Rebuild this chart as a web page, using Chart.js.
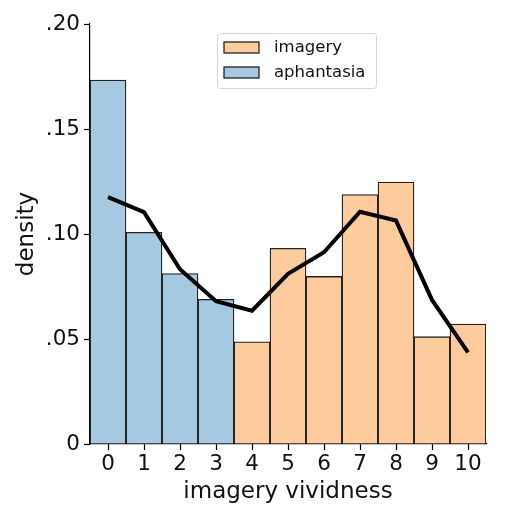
<!DOCTYPE html>
<html>
<head>
<meta charset="utf-8">
<script src="https://cdn.jsdelivr.net/npm/chart.js@4"></script>
<style>
  html, body { margin: 0; padding: 0; background: #fff; }
  #wrap { width: 520px; height: 520px; }
</style>
</head>
<body>
<div id="wrap"><canvas id="chart" width="520" height="520"></canvas></div>
<script>
// categories and values
var vividness = ['0', '1', '2', '3', '4', '5', '6', '7', '8', '9', '10'];
var aphantasia = [0.1733, 0.1008, 0.0812, 0.0689, null, null, null, null, null, null, null];
var imagery = [null, null, null, null, 0.0487, 0.0932, 0.0798, 0.1188, 0.1247, 0.0511, 0.0571];
var density = [0.1176, 0.1104, 0.0832, 0.0680, 0.0635, 0.0810, 0.0913, 0.1106, 0.1064, 0.0686, 0.0436];
var yTicks = [0, 0.05, 0.10, 0.15, 0.20];

var blue = '#a6c9e2';
var orange = '#fecb9c';
var font = 'DejaVu Sans';

function fmtTick(v) {
  if (v === 0) return '0';
  return v.toFixed(2).replace(/^0/, '');
}

// matplotlib style legend box inside the plot
var legendBox = {
  id: 'legendBox',
  afterDraw: function (chart) {
    var ctx = chart.ctx;
    var items = [
      { label: chart.data.datasets[2].label, color: orange },
      { label: chart.data.datasets[1].label, color: blue }
    ];
    ctx.save();
    ctx.fillStyle = 'rgba(255,255,255,0.8)';
    ctx.strokeStyle = '#d6d6d6';
    ctx.lineWidth = 1;
    ctx.beginPath();
    ctx.roundRect(217.5, 33.5, 159, 55, 3);
    ctx.fill();
    ctx.stroke();
    ctx.font = '16.5px ' + font;
    ctx.textBaseline = 'middle';
    for (var i = 0; i < items.length; i++) {
      var y = 42 + i * 25;
      ctx.fillStyle = items[i].color;
      ctx.fillRect(224, y, 35, 11);
      ctx.strokeStyle = '#222';
      ctx.lineWidth = 1.3;
      ctx.strokeRect(224, y, 35, 11);
      ctx.fillStyle = '#111';
      ctx.fillText(items[i].label, 274, y + 6);
    }
    ctx.restore();
  }
};

new Chart(document.getElementById('chart'), {
  data: {
    labels: vividness,
    datasets: [
      {
        type: 'line',
        label: 'density',
        data: density,
        borderColor: '#000',
        borderWidth: 4,
        pointRadius: 0,
        tension: 0,
        fill: false,
        order: 0
      },
      {
        type: 'bar',
        label: 'aphantasia',
        data: aphantasia,
        backgroundColor: blue,
        borderColor: '#222',
        borderWidth: 1.3,
        barPercentage: 1,
        categoryPercentage: 1,
        grouped: false,
        order: 1
      },
      {
        type: 'bar',
        label: 'imagery',
        data: imagery,
        backgroundColor: orange,
        borderColor: '#222',
        borderWidth: 1.3,
        barPercentage: 1,
        categoryPercentage: 1,
        grouped: false,
        order: 1
      }
    ]
  },
  options: {
    responsive: false,
    animation: false,
    layout: { padding: { top: 24, right: 34, left: 0, bottom: 0 } },
    plugins: {
      legend: { display: false },
      tooltip: { enabled: false }
    },
    scales: {
      x: {
        type: 'category',
        offset: true,
        grid: { display: true, drawOnChartArea: false, offset: false, tickLength: 6, color: '#000', tickWidth: 1.2 },
        border: { display: true, color: '#000', width: 1.2 },
        ticks: { color: '#111', font: { family: font, size: 21.5 }, padding: 2, maxRotation: 0 },
        title: { display: true, text: 'imagery vividness', color: '#111', font: { family: font, size: 23 }, padding: { top: 0, bottom: 14 } },
        afterFit: function (s) { s.height = 76; }
      },
      y: {
        min: 0,
        max: 0.2,
        afterBuildTicks: function (s) { s.ticks = yTicks.map(function (v) { return { value: v }; }); },
        grid: { display: true, drawOnChartArea: false, tickLength: 6, color: '#000', tickWidth: 1.2 },
        border: { display: true, color: '#000', width: 1.2 },
        ticks: { color: '#111', font: { family: font, size: 21.5 }, padding: 4, callback: function (v) { return fmtTick(v); } },
        title: { display: true, text: 'density', color: '#111', font: { family: font, size: 23 }, padding: { top: 13, bottom: 0 } },
        afterFit: function (s) { s.width = 90; }
      }
    }
  },
  plugins: [legendBox]
});
</script>
</body>
</html>
